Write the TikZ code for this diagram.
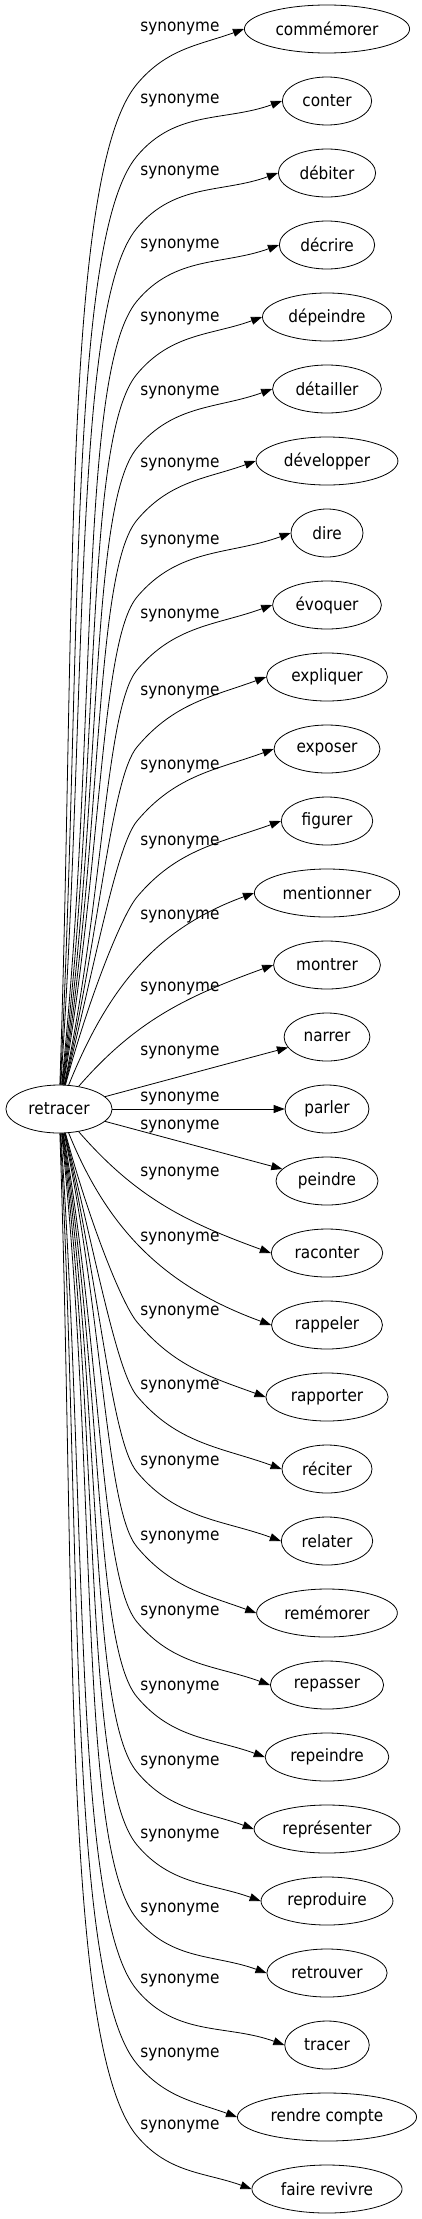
\documentclass[tikz,border=0pt]{standalone}
\usepackage{fontspec}
\setmainfont{DejaVu Sans Condensed}
\usetikzlibrary{shapes.geometric,arrows.meta}
\tikzset{
  word/.style={draw, ellipse, line width=0.8pt, inner xsep=7pt, inner ysep=2pt, minimum width=72pt, minimum height=48pt},
  syn/.style={line width=0.8pt, -{Triangle[length=11pt,width=8pt]}},
  legup/.style={in=230, out looseness=1.15, in looseness=0.3},
  bendup/.style={out=50, in=200},
  legdown/.style={in=130, out looseness=1.15, in looseness=0.3},
  benddown/.style={out=-50, in=160},
}
\begin{document}
\begin{tikzpicture}[x=1pt,y=1pt,font=\fontsize{17}{20}\selectfont]
	\useasboundingbox (0,0) rectangle (421,-2219);

	\node[word] (retracer) at (59,-1109) {retracer};

	\node[word] (commemorer) at (327,-29) {commémorer};
	\node[word] (conter) at (327,-101) {conter};
	\node[word] (debiter) at (327,-173) {débiter};
	\node[word] (decrire) at (327,-245) {décrire};
	\node[word] (depeindre) at (327,-317) {dépeindre};
	\node[word] (detailler) at (327,-389) {détailler};
	\node[word] (developper) at (327,-461) {développer};
	\node[word] (dire) at (327,-533) {dire};
	\node[word] (evoquer) at (327,-605) {évoquer};
	\node[word] (expliquer) at (327,-677) {expliquer};
	\node[word] (exposer) at (327,-749) {exposer};
	\node[word] (figurer) at (327,-821) {figurer};
	\node[word] (mentionner) at (327,-893) {mentionner};
	\node[word] (montrer) at (327,-965) {montrer};
	\node[word] (narrer) at (327,-1037) {narrer};
	\node[word] (parler) at (327,-1109) {parler};
	\node[word] (peindre) at (327,-1181) {peindre};
	\node[word] (raconter) at (327,-1253) {raconter};
	\node[word] (rappeler) at (327,-1325) {rappeler};
	\node[word] (rapporter) at (327,-1397) {rapporter};
	\node[word] (reciter) at (327,-1469) {réciter};
	\node[word] (relater) at (327,-1541) {relater};
	\node[word] (rememorer) at (327,-1613) {remémorer};
	\node[word] (repasser) at (327,-1685) {repasser};
	\node[word] (repeindre) at (327,-1757) {repeindre};
	\node[word] (representer) at (327,-1829) {représenter};
	\node[word] (reproduire) at (327,-1901) {reproduire};
	\node[word] (retrouver) at (327,-1973) {retrouver};
	\node[word] (tracer) at (327,-2045) {tracer};
	\node[word] (rendrecompte) at (327,-2117) {rendre compte};
	\node[word] (fairerevivre) at (327,-2189) {faire revivre};

	% knees of the long edges
	\coordinate (k0) at (137,-84);
	\coordinate (k1) at (137,-156);
	\coordinate (k2) at (137,-228);
	\coordinate (k3) at (137,-301);
	\coordinate (k4) at (137,-374);
	\coordinate (k5) at (137,-448);
	\coordinate (k6) at (137,-520);
	\coordinate (k7) at (137,-597);
	\coordinate (k8) at (137,-670);
	\coordinate (k9) at (137,-747);
	\coordinate (k10) at (137,-821);
	\coordinate (k11) at (137,-897);
	\coordinate (k19) at (137,-1322);
	\coordinate (k20) at (137,-1396);
	\coordinate (k21) at (137,-1472);
	\coordinate (k22) at (137,-1547);
	\coordinate (k23) at (137,-1622);
	\coordinate (k24) at (137,-1697);
	\coordinate (k25) at (137,-1772);
	\coordinate (k26) at (137,-1845);
	\coordinate (k27) at (137,-1919);
	\coordinate (k28) at (137,-1990);
	\coordinate (k29) at (137,-2064);
	\coordinate (k30) at (137,-2136);

	\draw[syn] (retracer.88) to[out=88,legup] (k0) to[bendup] (commemorer.west);
	\draw[syn] (retracer.87) to[out=87,legup] (k1) to[bendup] (conter.west);
	\draw[syn] (retracer.86) to[out=86,legup] (k2) to[bendup] (debiter.west);
	\draw[syn] (retracer.84) to[out=84,legup] (k3) to[bendup] (decrire.west);
	\draw[syn] (retracer.83) to[out=83,legup] (k4) to[bendup] (depeindre.west);
	\draw[syn] (retracer.82) to[out=82,legup] (k5) to[bendup] (detailler.west);
	\draw[syn] (retracer.81) to[out=81,legup] (k6) to[bendup] (developper.west);
	\draw[syn] (retracer.80) to[out=80,legup] (k7) to[bendup] (dire.west);
	\draw[syn] (retracer.78) to[out=78,legup] (k8) to[bendup] (evoquer.west);
	\draw[syn] (retracer.77) to[out=77,legup] (k9) to[bendup] (expliquer.west);
	\draw[syn] (retracer.76) to[out=76,legup] (k10) to[bendup] (exposer.west);
	\draw[syn] (retracer.75) to[out=75,legup] (k11) to[bendup] (figurer.west);
	\draw[syn] (retracer.68) to[out=68,in=200] (mentionner.west);
	\draw[syn] (retracer.49) to[out=49,in=200] (montrer.west);
	\draw[syn] (retracer) -- (narrer);
	\draw[syn] (retracer) -- (parler);
	\draw[syn] (retracer) -- (peindre);
	\draw[syn] (retracer.-49) to[out=-49,in=160] (raconter.west);
	\draw[syn] (retracer.-68) to[out=-68,in=160] (rappeler.west);
	\draw[syn] (retracer.-75) to[out=-75,legdown] (k19) to[benddown] (rapporter.west);
	\draw[syn] (retracer.-76) to[out=-76,legdown] (k20) to[benddown] (reciter.west);
	\draw[syn] (retracer.-77) to[out=-77,legdown] (k21) to[benddown] (relater.west);
	\draw[syn] (retracer.-78) to[out=-78,legdown] (k22) to[benddown] (rememorer.west);
	\draw[syn] (retracer.-80) to[out=-80,legdown] (k23) to[benddown] (repasser.west);
	\draw[syn] (retracer.-81) to[out=-81,legdown] (k24) to[benddown] (repeindre.west);
	\draw[syn] (retracer.-82) to[out=-82,legdown] (k25) to[benddown] (representer.west);
	\draw[syn] (retracer.-83) to[out=-83,legdown] (k26) to[benddown] (reproduire.west);
	\draw[syn] (retracer.-84) to[out=-84,legdown] (k27) to[benddown] (retrouver.west);
	\draw[syn] (retracer.-86) to[out=-86,legdown] (k28) to[benddown] (tracer.west);
	\draw[syn] (retracer.-87) to[out=-87,legdown] (k29) to[benddown] (rendrecompte.west);
	\draw[syn] (retracer.-88) to[out=-88,legdown] (k30) to[benddown] (fairerevivre.west);

	% edge labels
	\node (s0) at (180,-29) {synonyme};
	\node (s1) at (180,-101) {synonyme};
	\node (s2) at (180,-173) {synonyme};
	\node (s3) at (180,-246) {synonyme};
	\node (s4) at (180,-319) {synonyme};
	\node (s5) at (180,-393) {synonyme};
	\node (s6) at (180,-465) {synonyme};
	\node (s7) at (180,-542) {synonyme};
	\node (s8) at (180,-615) {synonyme};
	\node (s9) at (180,-692) {synonyme};
	\node (s10) at (180,-766) {synonyme};
	\node (s11) at (180,-842) {synonyme};
	\node (s12) at (180,-916) {synonyme};
	\node (s13) at (180,-988) {synonyme};
	\node (s14) at (180,-1052) {synonyme};
	\node (s15) at (180,-1098) {synonyme};
	\node (s16) at (180,-1126) {synonyme};
	\node (s17) at (180,-1173) {synonyme};
	\node (s18) at (180,-1238) {synonyme};
	\node (s19) at (180,-1312) {synonyme};
	\node (s20) at (180,-1386) {synonyme};
	\node (s21) at (180,-1462) {synonyme};
	\node (s22) at (180,-1537) {synonyme};
	\node (s23) at (180,-1612) {synonyme};
	\node (s24) at (180,-1687) {synonyme};
	\node (s25) at (180,-1762) {synonyme};
	\node (s26) at (180,-1835) {synonyme};
	\node (s27) at (180,-1909) {synonyme};
	\node (s28) at (180,-1980) {synonyme};
	\node (s29) at (180,-2054) {synonyme};
	\node (s30) at (180,-2126) {synonyme};
\end{tikzpicture}
\end{document}
